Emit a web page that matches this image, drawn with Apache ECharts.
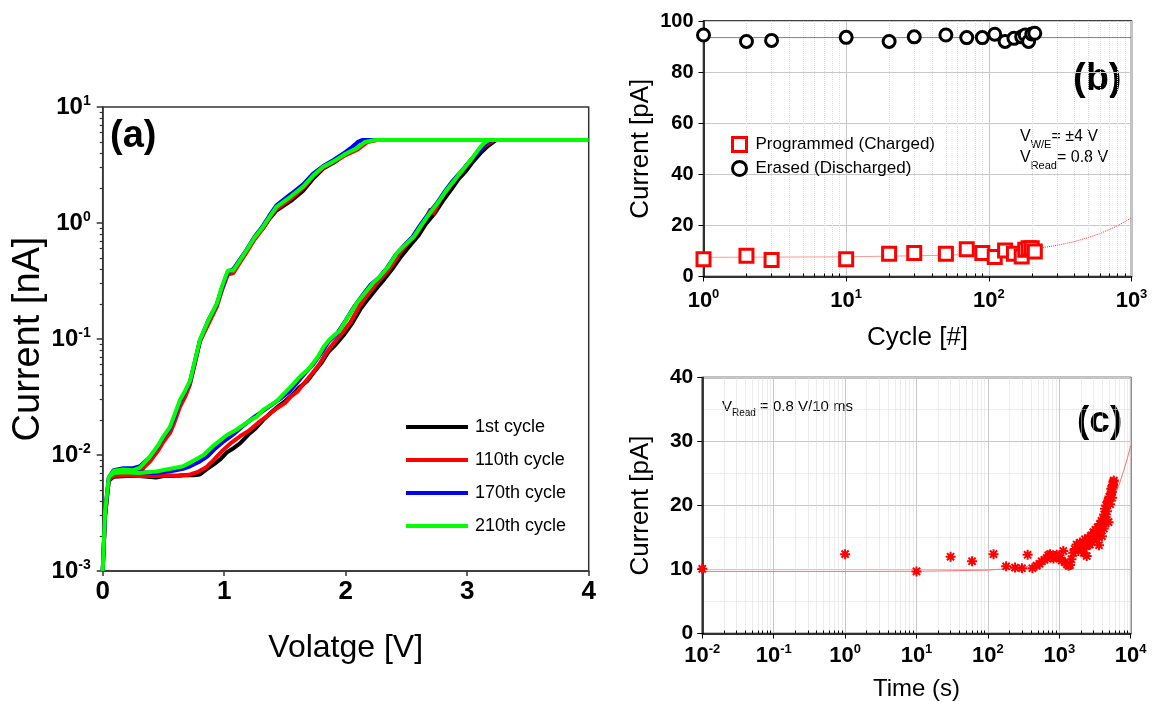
<!DOCTYPE html>
<html><head><meta charset="utf-8">
<script src="https://cdn.jsdelivr.net/npm/echarts@6/dist/echarts.min.js"></script>
<style>html,body{margin:0;padding:0;background:#fff}#main{width:1164px;height:707px}</style>
</head><body><div id="main"></div>
<script>
// ---------- Panel (a): I-V sweeps [V, nA] ----------
const iv1st = [[0,0.001],[0.02,0.0030],[0.05,0.0060],[0.09,0.0065],[0.20,0.0066],[0.30,0.0066],[0.44,0.0064],[0.50,0.0066],[0.58,0.0066],[0.66,0.0067],[0.75,0.0067],[0.80,0.0068],[0.86,0.0076],[0.92,0.0084],[0.97,0.0092],[1.02,0.0105],[1.08,0.0115],[1.13,0.0126],[1.20,0.0150],[1.26,0.0170],[1.32,0.0200],[1.38,0.0230],[1.44,0.0260],[1.50,0.0290],[1.56,0.0330],[1.62,0.0385],[1.68,0.0430],[1.74,0.0520],[1.80,0.0620],[1.86,0.0780],[1.92,0.0900],[1.99,0.110],[2.05,0.135],[2.12,0.180],[2.19,0.225],[2.25,0.270],[2.32,0.330],[2.39,0.410],[2.46,0.520],[2.53,0.640],[2.60,0.780],[2.66,0.980],[2.73,1.20],[2.80,1.55],[2.87,1.95],[2.93,2.40],[2.99,2.80],[3.05,3.40],[3.11,4.00],[3.17,4.60],[3.24,5.20],[4.0,5.2],
  [2.24,5.2],[2.16,5.0],[2.09,4.35],[2.00,3.90],[1.90,3.30],[1.815,2.95],[1.73,2.40],[1.65,1.90],[1.55,1.55],[1.43,1.28],[1.37,1.08],[1.32,0.90],[1.25,0.74],[1.185,0.57],[1.12,0.45],[1.075,0.38],[1.03,0.37],[0.98,0.27],[0.94,0.20],[0.87,0.14],[0.80,0.096],[0.76,0.064],[0.72,0.043],[0.68,0.034],[0.636,0.028],[0.59,0.021],[0.554,0.0168],[0.50,0.0138],[0.458,0.0115],[0.39,0.0090],[0.307,0.0072],[0.25,0.0068],[0.17,0.0066],[0.09,0.0065],[0.05,0.0060],[0.02,0.0030],[0,0.001]];
const iv110th = [[0,0.001],[0.02,0.0030],[0.05,0.0061],[0.09,0.0066],[0.20,0.0067],[0.30,0.0066],[0.44,0.0066],[0.55,0.0067],[0.62,0.0066],[0.72,0.0068],[0.79,0.0072],[0.856,0.0079],[0.92,0.0092],[0.99,0.0110],[1.06,0.0128],[1.13,0.0145],[1.21,0.0164],[1.28,0.0190],[1.35,0.0215],[1.43,0.0252],[1.50,0.0280],[1.55,0.0320],[1.60,0.0350],[1.66,0.0420],[1.72,0.0500],[1.78,0.0600],[1.84,0.0760],[1.90,0.0920],[1.97,0.112],[2.04,0.140],[2.11,0.190],[2.18,0.240],[2.24,0.290],[2.31,0.350],[2.38,0.430],[2.45,0.560],[2.52,0.680],[2.59,0.820],[2.65,1.05],[2.70,1.32],[2.72,1.20],[2.78,1.60],[2.85,2.00],[2.91,2.45],[2.97,2.90],[3.03,3.50],[3.09,4.10],[3.15,4.70],[3.22,5.20],[4.0,5.2],
  [2.26,5.2],[2.18,5.0],[2.10,4.3],[2.00,3.85],[1.90,3.35],[1.815,3.0],[1.73,2.50],[1.65,2.0],[1.55,1.62],[1.43,1.32],[1.37,1.10],[1.32,0.90],[1.25,0.72],[1.185,0.56],[1.12,0.44],[1.075,0.37],[1.03,0.36],[0.98,0.26],[0.94,0.19],[0.87,0.135],[0.80,0.095],[0.76,0.062],[0.72,0.041],[0.68,0.032],[0.636,0.026],[0.59,0.019],[0.554,0.0155],[0.50,0.0130],[0.458,0.0110],[0.39,0.0088],[0.307,0.0074],[0.25,0.0072],[0.17,0.0070],[0.09,0.0068],[0.05,0.0062],[0.02,0.0031],[0,0.001]];
const iv170th = [[0,0.001],[0.02,0.0032],[0.05,0.0063],[0.09,0.0072],[0.17,0.0073],[0.30,0.0071],[0.44,0.0070],[0.58,0.0073],[0.66,0.0076],[0.72,0.0080],[0.80,0.0088],[0.86,0.0097],[0.92,0.0112],[1.00,0.0132],[1.08,0.0152],[1.16,0.0180],[1.24,0.0210],[1.32,0.0240],[1.40,0.0275],[1.47,0.0310],[1.54,0.0355],[1.60,0.0420],[1.66,0.0500],[1.73,0.0600],[1.80,0.0760],[1.86,0.0950],[1.93,0.112],[2.00,0.145],[2.07,0.190],[2.14,0.240],[2.20,0.290],[2.27,0.335],[2.34,0.410],[2.41,0.530],[2.48,0.640],[2.55,0.760],[2.61,0.950],[2.68,1.20],[2.75,1.48],[2.82,1.90],[2.88,2.30],[2.94,2.70],[3.00,3.20],[3.06,3.75],[3.12,4.40],[3.16,4.90],[3.20,5.20],[4.0,5.2],
  [2.14,5.2],[2.10,5.0],[2.05,4.5],[2.00,4.1],[1.90,3.50],[1.815,3.1],[1.73,2.65],[1.65,2.15],[1.55,1.78],[1.43,1.42],[1.37,1.15],[1.32,0.95],[1.25,0.76],[1.185,0.59],[1.12,0.47],[1.075,0.40],[1.03,0.38],[0.98,0.27],[0.94,0.20],[0.87,0.145],[0.80,0.097],[0.76,0.064],[0.72,0.043],[0.68,0.035],[0.636,0.029],[0.59,0.021],[0.554,0.0170],[0.50,0.0142],[0.458,0.0120],[0.39,0.0096],[0.307,0.0080],[0.25,0.0077],[0.17,0.0077],[0.09,0.0074],[0.05,0.0064],[0.02,0.0032],[0,0.001]];
const iv210th = [[0,0.001],[0.02,0.0033],[0.05,0.0064],[0.09,0.0070],[0.17,0.0071],[0.30,0.0070],[0.44,0.0072],[0.58,0.0077],[0.66,0.0080],[0.72,0.0086],[0.83,0.0100],[0.91,0.0120],[1.02,0.0148],[1.10,0.0165],[1.21,0.0198],[1.27,0.0215],[1.32,0.0245],[1.43,0.0290],[1.50,0.0345],[1.56,0.0400],[1.62,0.0470],[1.70,0.0560],[1.77,0.0700],[1.82,0.0860],[1.87,0.100],[1.95,0.118],[2.02,0.155],[2.09,0.203],[2.16,0.250],[2.22,0.300],[2.28,0.344],[2.35,0.420],[2.42,0.548],[2.49,0.650],[2.56,0.760],[2.62,0.950],[2.69,1.21],[2.76,1.50],[2.83,1.92],[2.89,2.30],[2.94,2.68],[3.00,3.20],[3.05,3.73],[3.10,4.40],[3.14,4.90],[3.18,5.20],[4.0,5.2],
  [2.24,5.2],[2.16,5.0],[2.09,4.4],[2.00,3.95],[1.90,3.40],[1.815,3.06],[1.73,2.55],[1.65,2.06],[1.55,1.70],[1.43,1.38],[1.37,1.12],[1.32,0.93],[1.25,0.75],[1.185,0.585],[1.12,0.46],[1.075,0.39],[1.03,0.39],[0.98,0.28],[0.94,0.203],[0.87,0.145],[0.80,0.098],[0.76,0.066],[0.72,0.044],[0.68,0.036],[0.636,0.0298],[0.59,0.022],[0.554,0.0175],[0.50,0.0145],[0.458,0.0122],[0.39,0.0097],[0.307,0.0078],[0.25,0.0074],[0.17,0.0075],[0.09,0.0073],[0.05,0.0064],[0.02,0.0033],[0,0.001]];
const ivNames = ['1st cycle','110th cycle','170th cycle','210th cycle'];
const ivColors = ['#000000','#ff0000','#0000ff','#00ff00'];
const aMajor = [0.001,0.01,0.1,1,10];
const aMinor = [0.002,0.003,0.004,0.005,0.006,0.007,0.008,0.009,0.02,0.03,0.04,0.05,0.06,0.07,0.08,0.09,0.2,0.3,0.4,0.5,0.6,0.7,0.8,0.9,2,3,4,5,6,7,8,9];

// ---------- Panel (b): endurance ----------
const cycles = [1,2,3,10,20,30,50,70,90,110,130,150,170,180,190,200,210];
const programmedPA = [6.8,8.1,6.5,6.8,8.9,9.2,8.9,10.7,9.2,7.6,10.2,8.9,7.8,10.5,11.1,11.1,9.8];
const erasedPA = [94.5,92.0,92.4,93.6,92.0,93.8,94.5,93.5,93.5,94.8,92.0,93.2,93.8,94.5,92.0,94.9,95.2];
const progFitX = [1,10,50,100,150,200,300,400,500,600,700,800,900,1000];
const progFitY = [7.5,7.7,8.3,9.0,9.8,10.6,12.2,13.7,15.3,16.8,18.4,19.9,21.5,23.0];
const eraseFitX = [1,1000];
const eraseFitY = [93.5,93.5];
const bMajor = [1,10,100,1000];
const bMinor = [2,3,4,5,6,7,8,9,20,30,40,50,60,70,80,90,200,300,400,500,600,700,800,900];

// ---------- Panel (c): retention ----------
const timeS = [0.01,1,10,30,60,120,180,240,300,360,420,480,530,566,620,665,700,741,790,830,871,920,960,1023,1080,1138,1202,1280,1350,1413,1480,1571,1650,1752,1850,1950,2058,2150,2200,2290,2380,2420,2500,2600,2690,2780,2850,2994,3100,3200,3340,3450,3550,3600,3717,3800,3900,3950,4000,4140,4200,4250,4370,4450,4500,4550,4650,4760,4860,4900,5050,5150,5250,5340,5420,5500,5580,5650,5720,5800];
const currentPA = [10.1,12.4,9.7,12.0,11.3,12.4,10.5,10.3,10.2,12.3,10.2,10.6,10.9,11.3,11.5,11.8,12.2,12.4,12.0,11.7,12.1,12.3,11.9,11.8,11.4,12.9,11.1,10.8,10.6,10.7,11.6,12.6,13.2,13.9,12.9,14.2,13.2,14.0,12.6,14.7,13.6,12.1,14.9,13.9,13.9,15.3,14.4,15.8,14.9,16.2,14.7,16.6,15.5,13.8,17.1,16.3,17.6,15.2,16.8,17.9,16.4,18.6,19.5,18.2,17.8,20.0,19.1,20.6,20.8,17.4,21.4,20.2,21.8,22.6,22.1,21.2,22.9,23.2,23.7,23.9];
const cFitT = [0.01,1,10,100,300,1000,2000,3000,4000,5000,6000,7000,8000,9000,10000];
const cFitI = [9.7,9.7,9.72,9.9,10.3,11.7,13.6,15.6,17.6,19.6,21.5,23.5,25.5,27.4,29.4];
const cMajor = [0.01,0.1,1,10,100,1000,10000];
const cMinor = [0.02,0.03,0.04,0.05,0.06,0.07,0.08,0.09,0.2,0.3,0.4,0.5,0.6,0.7,0.8,0.9,2,3,4,5,6,7,8,9,20,30,40,50,60,70,80,90,200,300,400,500,600,700,800,900,2000,3000,4000,5000,6000,7000,8000,9000];

// ---------- helpers ----------
const FF = '"Liberation Sans", Arial, sans-serif';
const zip = (xs, ys) => xs.map((x, i) => [x, ys[i]]);
const powLabel = v => '{b|10}{s|' + Math.round(Math.log10(v)) + '}';
const richA = {b:{fontSize:24,fontWeight:'bold',fontFamily:FF,color:'#000',lineHeight:26},
               s:{fontSize:14,fontWeight:'bold',fontFamily:FF,color:'#000',lineHeight:14,verticalAlign:'top'}};
const richB = {b:{fontSize:22,fontWeight:'bold',fontFamily:FF,color:'#000',lineHeight:26},
               s:{fontSize:13,fontWeight:'bold',fontFamily:FF,color:'#000',lineHeight:13,verticalAlign:'top'}};
const nameStyle = sz => ({fontSize:sz,fontFamily:FF,color:'#000'});
const ASTER = 'path://M0 4H10V6H0Z M4 0H6V10H4Z M0.7 2.1L2.1 0.7L9.3 7.9L7.9 9.3Z M7.9 0.7L9.3 2.1L2.1 9.3L0.7 7.9Z';
const subRich = (big, small, subLH) => ({
  v:{fontSize:big,fontFamily:FF,lineHeight:big + 1,verticalAlign:'top',fill:'#000'},
  s:{fontSize:small,fontFamily:FF,lineHeight:subLH,verticalAlign:'bottom',fill:'#000'}});

const chart = echarts.init(document.getElementById('main'));
const option = {
  animation:false,
  backgroundColor:'#fff',
  grid:[
    {left:102.7, top:107, width:486, height:464, show:true, borderColor:'#333', borderWidth:1.5, backgroundColor:'transparent', outerBoundsMode:'none'},
    {left:703.5, top:21, width:428, height:255.5, show:true, borderColor:'#000', borderWidth:1.5, backgroundColor:'transparent', outerBoundsMode:'none'},
    {left:702.3, top:377.5, width:428.4, height:256, show:true, borderColor:'#000', borderWidth:1.5, backgroundColor:'transparent', outerBoundsMode:'none'}
  ],
  xAxis:[
    {gridIndex:0, type:'value', position:'bottom', min:0, max:4, interval:1,
     axisLine:{lineStyle:{color:'#333',width:1.5}}, axisTick:{length:5,lineStyle:{color:'#333',width:1.5}},
     axisLabel:{fontSize:26,fontWeight:'bold',fontFamily:FF,color:'#000',margin:8},
     splitLine:{show:false},
     name:'Volatge [V]', nameLocation:'middle', nameGap:61, nameTextStyle:nameStyle(32)},
    {gridIndex:1, type:'log', logBase:10, position:'bottom', min:1, max:1000,
     axisLine:{lineStyle:{color:'#000',width:1.5}}, axisTick:{customValues:bMajor,length:5,lineStyle:{color:'#000'}},
     axisLabel:{customValues:bMajor, formatter:powLabel, rich:richB, margin:11},
     splitLine:{show:true,lineStyle:{color:'#c8c8c8',width:1}},
     name:'Cycle [#]', nameLocation:'middle', nameGap:48, nameTextStyle:nameStyle(26)},
    {gridIndex:1, type:'log', logBase:10, position:'bottom', min:1, max:1000,
     axisLine:{show:false}, axisLabel:{show:false},
     axisTick:{customValues:bMinor, inside:true, length:3, lineStyle:{color:'#000'}},
     splitLine:{show:true,lineStyle:{color:'#dcdcdc',width:1,type:'dotted'}}},
    {gridIndex:2, type:'log', logBase:10, position:'bottom', min:0.01, max:10000,
     axisLine:{lineStyle:{color:'#000',width:1.5}}, axisTick:{customValues:cMajor,length:5,lineStyle:{color:'#000'}},
     axisLabel:{customValues:cMajor, formatter:powLabel, rich:richB, margin:9},
     splitLine:{show:true,lineStyle:{color:'#c8c8c8',width:1}},
     name:'Time (s)', nameLocation:'middle', nameGap:44, nameTextStyle:nameStyle(24)},
    {gridIndex:2, type:'log', logBase:10, position:'bottom', min:0.01, max:10000,
     axisLine:{show:false}, axisLabel:{show:false},
     axisTick:{customValues:cMinor, inside:true, length:3, lineStyle:{color:'#000'}},
     splitLine:{show:true,lineStyle:{color:'#dcdcdc',width:1,type:'dotted'}}}
  ],
  yAxis:[
    {gridIndex:0, type:'log', logBase:10, position:'left', min:0.001, max:10,
     axisLine:{lineStyle:{color:'#333',width:1.5}}, axisTick:{customValues:aMajor,length:6,lineStyle:{color:'#333',width:1.5}},
     axisLabel:{customValues:aMajor, formatter:powLabel, rich:richA, margin:12},
     splitLine:{show:false},
     name:'Current [nA]', nameLocation:'middle', nameGap:55, nameRotate:90, nameTextStyle:nameStyle(38)},
    {gridIndex:0, type:'log', logBase:10, position:'left', min:0.001, max:10,
     axisLine:{show:false}, axisLabel:{show:false},
     axisTick:{customValues:aMinor,length:3,lineStyle:{color:'#333',width:1.2}}, splitLine:{show:false}},
    {gridIndex:1, type:'value', position:'left', min:0, max:100, interval:20,
     axisLine:{lineStyle:{color:'#000',width:1.5}}, axisTick:{length:5,lineStyle:{color:'#000'}},
     axisLabel:{fontSize:20,fontWeight:'bold',fontFamily:FF,color:'#000',margin:10},
     splitLine:{show:true,lineStyle:{color:'#c8c8c8',width:1}},
     name:'Current [pA]', nameLocation:'middle', nameGap:50, nameRotate:90, nameTextStyle:nameStyle(26)},
    {gridIndex:2, type:'value', position:'left', min:0, max:40, interval:10,
     axisLine:{lineStyle:{color:'#000',width:1.5}}, axisTick:{length:5,lineStyle:{color:'#000'}},
     axisLabel:{fontSize:21,fontWeight:'bold',fontFamily:FF,color:'#000',margin:9},
     splitLine:{show:true,lineStyle:{color:'#c8c8c8',width:1}},
     minorTick:{show:false, splitNumber:2},
     minorSplitLine:{show:true,lineStyle:{color:'#dcdcdc',width:1,type:'dotted'}},
     name:'Current [pA]', nameLocation:'middle', nameGap:48, nameRotate:90, nameTextStyle:nameStyle(26)}
  ],
  legend:[
    {left:401, top:413, orient:'vertical', itemWidth:62, itemHeight:18, itemGap:15,
     textStyle:{fontSize:18,fontFamily:FF,color:'#000',padding:[0,0,0,2]},
     selectedMode:false,
     data: ivNames.map(n => ({name:n, icon:'path://M0,0H62V4H0Z'}))},
    {left:726, top:131, orient:'vertical', itemWidth:14, itemHeight:14, itemGap:7,
     textStyle:{fontSize:17,fontFamily:FF,color:'#000',padding:[0,0,0,4]},
     selectedMode:false,
     data:[{name:'Programmed (Charged)', icon:'rect', itemStyle:{color:'#fff',borderColor:'#ff0000',borderWidth:3,opacity:1}},
           {name:'Erased (Discharged)', icon:'circle', itemStyle:{color:'#fff',borderColor:'#000',borderWidth:3,opacity:1}}]}
  ],
  graphic:[
    {type:'text', left:110, top:118, style:{text:'(a)', font:'bold 38px ' + FF, fill:'#000'}},
    {type:'text', left:1073, top:61, style:{text:'(b)', font:'bold 38px ' + FF, fill:'#000'}},
    {type:'text', left:1077, top:403, style:{text:'(c)', font:'bold 37px ' + FF, fill:'#000'}},
    {type:'text', left:1020, top:129, style:{text:'{v|V}{s|W/E}{v|= ±4 V}', fill:'#000', rich:subRich(16, 11, 21)}},
    {type:'text', left:1020, top:150, style:{text:'{v|V}{s|Read}{v|= 0.8 V}', fill:'#000', rich:subRich(16, 11, 21)}},
    {type:'text', left:722, top:399, style:{text:'{v|V}{s|Read}{v| = 0.8 V/10 ms}', fill:'#000', rich:subRich(15, 10, 19)}}
  ],
  series:[
    ...[iv1st, iv110th, iv170th, iv210th].map((d, i) => ({
      name:ivNames[i], type:'line', xAxisIndex:0, yAxisIndex:0, data:d, symbol:'none',
      color:ivColors[i], lineStyle:{width:4,color:ivColors[i]}, z:2+i, silent:true})),
    {name:'progFit', type:'line', xAxisIndex:1, yAxisIndex:2, data:zip(progFitX, progFitY), symbol:'none',
     lineStyle:{color:'#ff3030',width:1,type:'dotted'}, z:2, silent:true},
    {name:'eraseFit', type:'line', xAxisIndex:1, yAxisIndex:2, data:zip(eraseFitX, eraseFitY), symbol:'none',
     lineStyle:{color:'#000',width:1,type:'dotted'}, z:2, silent:true},
    {name:'Programmed (Charged)', type:'scatter', xAxisIndex:1, yAxisIndex:2, data:zip(cycles, programmedPA),
     symbol:'rect', symbolSize:13, itemStyle:{color:'#fff',borderColor:'#ff0000',borderWidth:3,opacity:1}, z:3, silent:true},
    {name:'Erased (Discharged)', type:'scatter', xAxisIndex:1, yAxisIndex:2, data:zip(cycles, erasedPA),
     symbol:'circle', symbolSize:12, itemStyle:{color:'#fff',borderColor:'#000',borderWidth:3,opacity:1}, z:3, silent:true},
    {name:'cFit', type:'line', xAxisIndex:3, yAxisIndex:3, data:zip(cFitT, cFitI), symbol:'none',
     lineStyle:{color:'#ff7070',width:1}, z:2, silent:true},
    {name:'cData', type:'scatter', xAxisIndex:3, yAxisIndex:3, data:zip(timeS, currentPA),
     symbol:ASTER, symbolSize:10, itemStyle:{color:'#ff0000',opacity:1}, z:3, silent:true}
  ]
};
chart.setOption(option);
</script></body></html>
